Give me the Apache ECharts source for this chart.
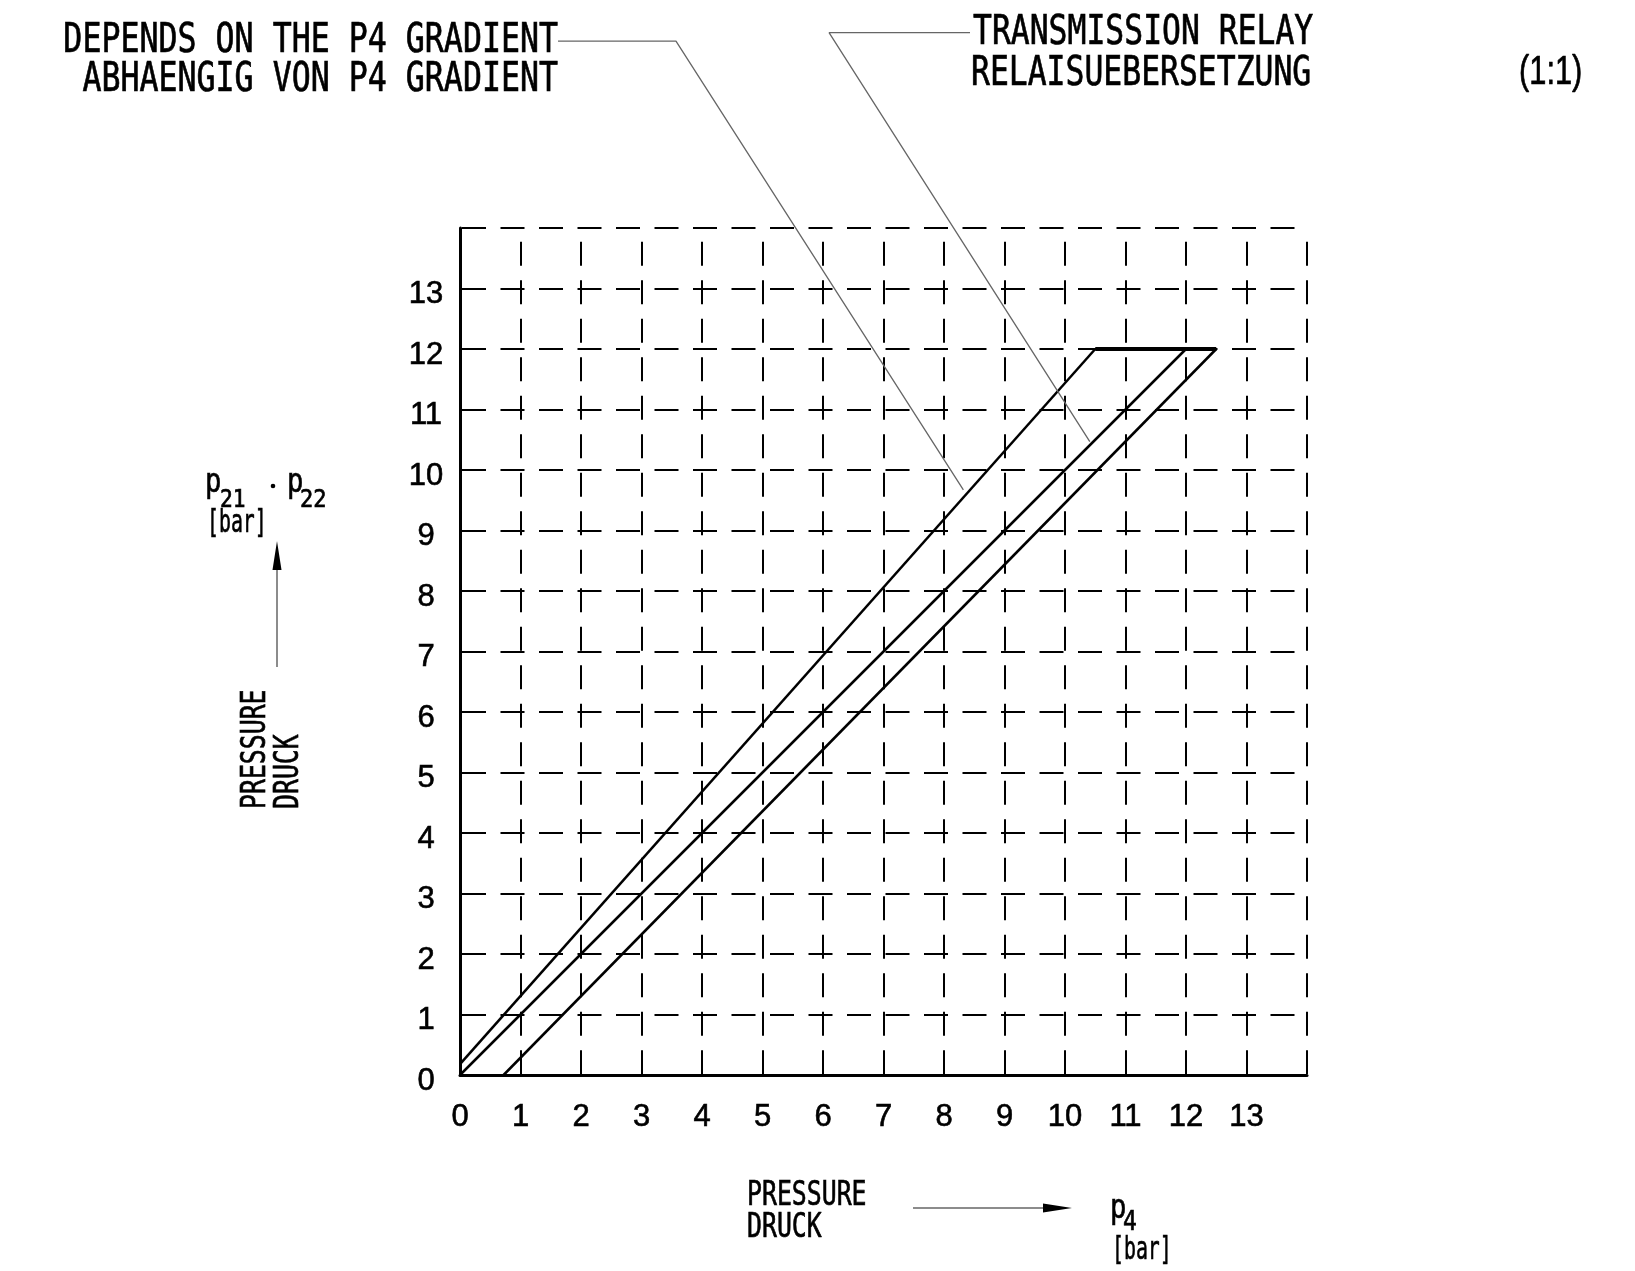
<!DOCTYPE html>
<html>
<head>
<meta charset="utf-8">
<script src="https://cdn.jsdelivr.net/npm/echarts@6/dist/echarts.min.js"></script>
<style>
  html, body { margin: 0; padding: 0; background: #ffffff; }
  #chart { width: 1635px; height: 1271px; }
</style>
</head>
<body>
<div id="chart"></div>
<script>
// ---- data (bar) ----
const tickLabels = ['0','1','2','3','4','5','6','7','8','9','10','11','12','13'];
// upper limit: depends on the p4 gradient
const upperLine = [[0, 0.18], [10.5, 12]];
// saturation at 12 bar
const topBar = [[10.5, 12], [12.5, 12]];
// transmission relay 1:1
const relayLine = [[0, 0], [12, 12]];
// lower limit
const lowerLine = [[0.72, 0], [12.5, 12]];
// leader lines from the annotations (data coordinates)
const leaderGradient = [[1.62, 17.09], [3.57, 17.09], [8.32, 9.67]];
const leaderRelay = [[8.43, 17.23], [6.10, 17.23], [10.41, 10.47]];

const chart = echarts.init(document.getElementById('chart'), null, { renderer: 'canvas' });

const MONO = 'DejaVu Sans Mono';
const SANS = 'Liberation Sans';
const INK = '#000000';
const THIN = '#666666';

function txt(text, x, y, opt) {
  return Object.assign({
    type: 'text', x: x, y: y, silent: true,
    style: Object.assign({
      text: text, fill: INK, fontFamily: MONO, fontSize: 40,
      align: 'left', verticalAlign: 'middle',
      stroke: INK, lineWidth: 0.7
    }, opt.style || {})
  }, opt.el || {});
}

const dash = { color: INK, width: 2, type: [24, 14.5] };

const option = {
  animation: false,
  backgroundColor: '#ffffff',
  grid: { left: 460, top: 228, width: 847, height: 847, containLabel: false, outerBoundsMode: 'none' },
  xAxis: {
    type: 'value', min: 0, max: 14, interval: 1,
    axisLine: { show: true, onZero: false, lineStyle: { color: INK, width: 3 } },
    axisTick: { show: false },
    axisLabel: {
      margin: 27, color: INK, fontFamily: SANS, fontSize: 31,
      textBorderColor: INK, textBorderWidth: 0.6,
      formatter: v => (v < tickLabels.length ? tickLabels[v] : '')
    },
    splitLine: { show: true, lineStyle: Object.assign({}, dash, { dashOffset: 24.8 }) }
  },
  yAxis: {
    type: 'value', min: 0, max: 14, interval: 1,
    axisLine: { show: true, onZero: false, lineStyle: { color: INK, width: 3 } },
    axisTick: { show: false },
    axisLabel: {
      margin: 34, align: 'center', color: INK, fontFamily: SANS, fontSize: 31,
      formatter: v => (v < tickLabels.length ? '{t|' + tickLabels[v] + '}' : ''),
      rich: {
        t: {
          color: INK, fontFamily: SANS, fontSize: 31,
          textBorderColor: INK, textBorderWidth: 0.6,
          padding: [12, 0, 0, 0]
        }
      }
    },
    splitLine: { show: true, lineStyle: Object.assign({}, dash, { dashOffset: 36.5 }) }
  },
  series: [
    { name: 'upper', type: 'line', data: upperLine, symbol: 'none', lineStyle: { color: INK, width: 2.5 }, z: 5 },
    { name: 'top', type: 'line', data: topBar, symbol: 'none', lineStyle: { color: INK, width: 4 }, z: 5 },
    { name: 'relay', type: 'line', data: relayLine, symbol: 'none', lineStyle: { color: INK, width: 2.5 }, z: 5 },
    { name: 'lower', type: 'line', data: lowerLine, symbol: 'none', lineStyle: { color: INK, width: 2.5 }, z: 5 },
    { name: 'leaderGradient', type: 'line', data: leaderGradient, symbol: 'none', clip: false, lineStyle: { color: THIN, width: 1.3 }, z: 6 },
    { name: 'leaderRelay', type: 'line', data: leaderRelay, symbol: 'none', clip: false, lineStyle: { color: THIN, width: 1.3 }, z: 6 }
  ],
  graphic: [
    // annotations top left
    txt('DEPENDS ON THE P4 GRADIENT', 558, 42, { style: { align: 'right' }, el: { scaleX: 0.79 } }),
    txt('ABHAENGIG VON P4 GRADIENT', 558, 81, { style: { align: 'right' }, el: { scaleX: 0.79 } }),
    // annotations top right
    txt('TRANSMISSION RELAY', 973, 34, { el: { scaleX: 0.785 } }),
    txt('RELAISUEBERSETZUNG', 971, 75, { el: { scaleX: 0.785 } }),
    txt('(1:1)', 1519, 73, { style: { fontFamily: SANS }, el: { scaleX: 0.77 } }),

    // y axis name
    txt('p', 205, 483, { style: { fontSize: 34 }, el: { scaleX: 0.8 } }),
    txt('21', 220, 500, { style: { fontSize: 25 }, el: { scaleX: 0.85 } }),
    { type: 'circle', silent: true, shape: { cx: 273, cy: 486, r: 2.3 }, style: { fill: INK } },
    txt('p', 287, 483, { style: { fontSize: 34 }, el: { scaleX: 0.8 } }),
    txt('22', 300, 500, { style: { fontSize: 25 }, el: { scaleX: 0.88 } }),
    txt('[bar]', 207, 524, { style: { fontSize: 32 }, el: { scaleX: 0.62 } }),
    // y arrow
    { type: 'line', silent: true, shape: { x1: 277, y1: 667, x2: 277, y2: 560 }, style: { stroke: THIN, lineWidth: 1.5 } },
    { type: 'polygon', silent: true, shape: { points: [[277, 541], [272.5, 570], [281.5, 570]] }, style: { fill: INK } },
    // rotated PRESSURE / DRUCK
    txt('PRESSURE', 256, 809, { style: { fontSize: 34 }, el: { scaleX: 0.73, rotation: Math.PI / 2 } }),
    txt('DRUCK', 289, 809, { style: { fontSize: 34 }, el: { scaleX: 0.73, rotation: Math.PI / 2 } }),

    // x axis name
    txt('PRESSURE', 747, 1196, { style: { fontSize: 34 }, el: { scaleX: 0.73 } }),
    txt('DRUCK', 747, 1228, { style: { fontSize: 34 }, el: { scaleX: 0.73 } }),
    { type: 'line', silent: true, shape: { x1: 913, y1: 1208, x2: 1050, y2: 1208 }, style: { stroke: THIN, lineWidth: 1.5 } },
    { type: 'polygon', silent: true, shape: { points: [[1072, 1208], [1043, 1203.5], [1043, 1212.5]] }, style: { fill: INK } },
    txt('p', 1110, 1209, { style: { fontSize: 34 }, el: { scaleX: 0.8 } }),
    txt('4', 1123, 1223, { style: { fontSize: 27 }, el: { scaleX: 0.85 } }),
    txt('[bar]', 1112, 1251, { style: { fontSize: 32 }, el: { scaleX: 0.62 } })
  ]
};

chart.setOption(option);
</script>
</body>
</html>
